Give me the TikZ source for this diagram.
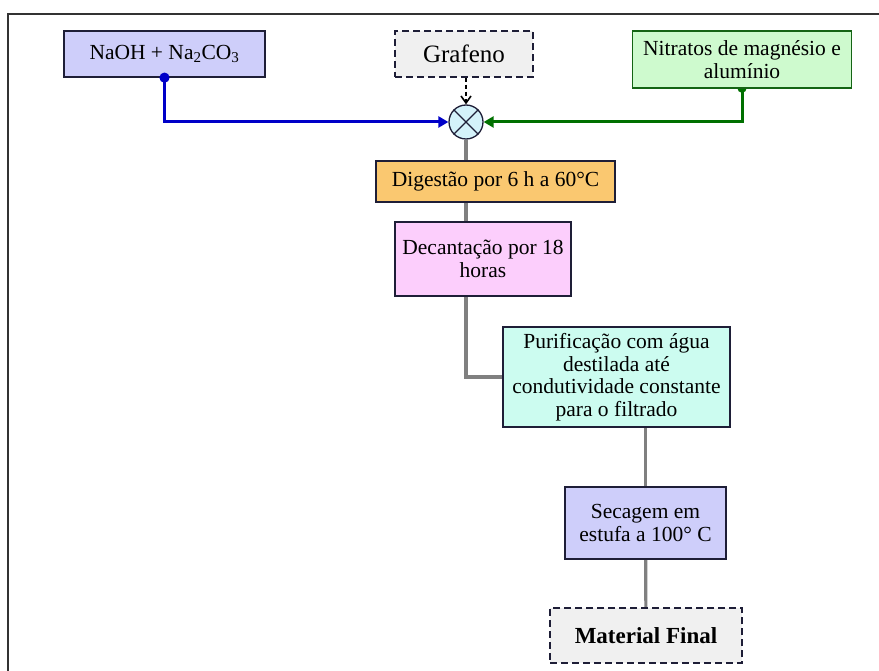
\documentclass[tikz,border=0pt]{standalone}
\usepackage{fontspec}
\setmainfont{Liberation Serif}
\usetikzlibrary{positioning, arrows.meta, backgrounds}
\usepackage{xcolor}

\definecolor{boxline}{RGB}{30,30,55}
\definecolor{naohblue}{RGB}{206,206,250}
\definecolor{inputgray}{RGB}{240,240,240}
\definecolor{nitgreen}{RGB}{206,250,206}
\definecolor{darkgreen}{RGB}{20,100,20}
\definecolor{mixcyan}{RGB}{212,242,250}
\definecolor{digorange}{RGB}{250,200,112}
\definecolor{decpink}{RGB}{252,206,252}
\definecolor{puraqua}{RGB}{204,252,240}
\definecolor{feedblue}{RGB}{0,0,200}
\definecolor{feedgreen}{RGB}{0,112,0}
\definecolor{pipegray}{RGB}{128,128,128}

\begin{document}
\begin{tikzpicture}[x=1pt, y=-1pt, font=\fontsize{21.5}{22.5}\selectfont]
                % Styles
                \tikzstyle{process} = [rectangle, draw=boxline, line width=1.3pt, align=center, inner sep=2pt]
                \tikzstyle{input} = [process, dash pattern=on 7pt off 4pt, fill=inputgray]
                \tikzstyle{feed} = [line width=3pt, {Circle[length=10pt]}-{Triangle[length=10pt,width=11pt]}, shorten <=-5pt]
                \tikzstyle{pipe} = [line width=3.2pt, draw=pipegray]

                \useasboundingbox (0,0) rectangle (879,671);
                \draw [line width=2pt, black!80] (879,14) -- (8,14) -- (8,671);

                % Nodes
                \node (naoh) [process, fill=naohblue, minimum width=201pt, minimum height=46pt] at (164.5,54) {NaOH + Na\textsubscript{2}CO\textsubscript{3}};
                \node (grafeno) [input, minimum width=138pt, minimum height=46pt, font=\fontsize{25}{27}\selectfont] at (464,54) {Grafeno};
                \node (nitratos) [process, draw=darkgreen, fill=nitgreen, minimum width=219pt, minimum height=57pt] at (742,59.5) {Nitratos de magnésio e\\alumínio};
                \node (mix) [circle, draw=boxline, line width=1.3pt, fill=mixcyan, minimum size=34pt, inner sep=0pt] at (466,122) {};
                \node (digestao) [process, fill=digorange, minimum width=239pt, minimum height=41pt] at (495.5,181.5) {Digestão por 6 h a 60°C};
                \node (decantacao) [process, fill=decpink, minimum width=176pt, minimum height=74pt] at (483,259) {Decantação por 18\\horas};
                \node (purificacao) [process, fill=puraqua, minimum width=227pt, minimum height=100pt] at (616.5,377) {Purificação com água\\destilada até\\condutividade constante\\para o filtrado};
                \node (secagem) [process, fill=naohblue, minimum width=161pt, minimum height=72pt] at (645.5,523) {Secagem em\\estufa a 100° C};
                \node (final) [input, minimum width=192pt, minimum height=55pt, font=\fontsize{23}{25}\selectfont\bfseries] at (646,635.5) {Material Final};

                \draw [boxline, line width=1.3pt] (mix.45) -- (mix.225) (mix.135) -- (mix.315);

                % Paths
                \draw [feed, feedblue] (naoh.south) |- (mix.west);
                \draw [line width=1.6pt, dash pattern=on 4pt off 3pt, -{Straight Barb[length=7pt,width=10pt]}] (grafeno.south -| mix.north) -- (mix.north);
                \begin{scope}[on background layer]
                \draw [feed, feedgreen, {Circle[length=9pt]}-{Triangle[length=10pt,width=11pt]}] (nitratos.south) |- (mix.east);
                \draw [pipe] (mix.south) |- (purificacao.west);
                \draw [pipe] (purificacao.south -| secagem.north) -- (secagem.north);
                \draw [pipe] (secagem) -- (final);
                \end{scope}

            \end{tikzpicture}
\end{document}
